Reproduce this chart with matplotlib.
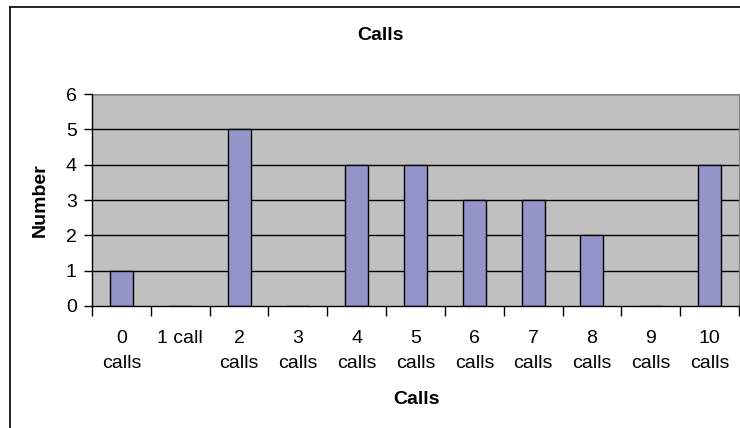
import matplotlib.pyplot as plt
from matplotlib.lines import Line2D

plt.rcParams['font.family'] = ['Liberation Sans', 'DejaVu Sans']

categories = ['0\ncalls', '1 call', '2\ncalls', '3\ncalls', '4\ncalls', '5\ncalls',
              '6\ncalls', '7\ncalls', '8\ncalls', '9\ncalls', '10\ncalls']
counts = [1, 0, 5, 0, 4, 4, 3, 3, 2, 0, 4]
yticks = [0, 1, 2, 3, 4, 5, 6]

fig = plt.figure(figsize=(7.4, 4.28), dpi=100)
ax = fig.add_axes([92/740, 122/428, 647/740, 212/428])
ax.set_facecolor('#C0C0C0')

xs = list(range(len(categories)))
ax.bar(xs, counts, width=0.39, color='#9595C9', edgecolor='black', linewidth=1, zorder=3)

ax.set_xlim(-0.5, len(categories) - 0.5)
ax.set_ylim(0, 6)
ax.set_yticks(yticks)
for y in yticks[1:]:
    ax.axhline(y, color='black', linewidth=1, zorder=1)

# category labels, tick marks between categories
ax.set_xticks(xs)
ax.set_xticklabels(categories, linespacing=1.65, fontsize=14)
ax.tick_params(axis='x', which='major', length=0, pad=17)
ax.set_xticks([x + 0.5 for x in xs[:-1]] + [-0.5, len(categories) - 0.5], minor=True)
ax.tick_params(axis='x', which='minor', length=7, width=1, direction='out')
ax.tick_params(axis='y', length=6, width=1, direction='out', labelsize=14, pad=5)

for s in ['top', 'right']:
    ax.spines[s].set_color('#808080')
for s in ['left', 'bottom']:
    ax.spines[s].set_color('black')
    ax.spines[s].set_linewidth(1)
    ax.spines[s].set_zorder(4)

fig.text(380/740, 1 - 35/428, 'Calls', ha='center', va='center', fontsize=14, fontweight='bold')
fig.text(416/740, 1 - 399/428, 'Calls', ha='center', va='center', fontsize=14, fontweight='bold')
fig.text(40/740, 1 - 200/428, 'Number', ha='center', va='center', rotation=90,
         fontsize=14, fontweight='bold')

# outer chart frame (runs off the right and bottom edges)
fig.add_artist(Line2D([10/740, 10/740], [-0.1, 1 - 7/428], transform=fig.transFigure,
                      color='black', linewidth=1.2))
fig.add_artist(Line2D([10/740, 1.1], [1 - 7/428, 1 - 7/428], transform=fig.transFigure,
                      color='black', linewidth=1.2))

fig.savefig('out.png', dpi=100)
